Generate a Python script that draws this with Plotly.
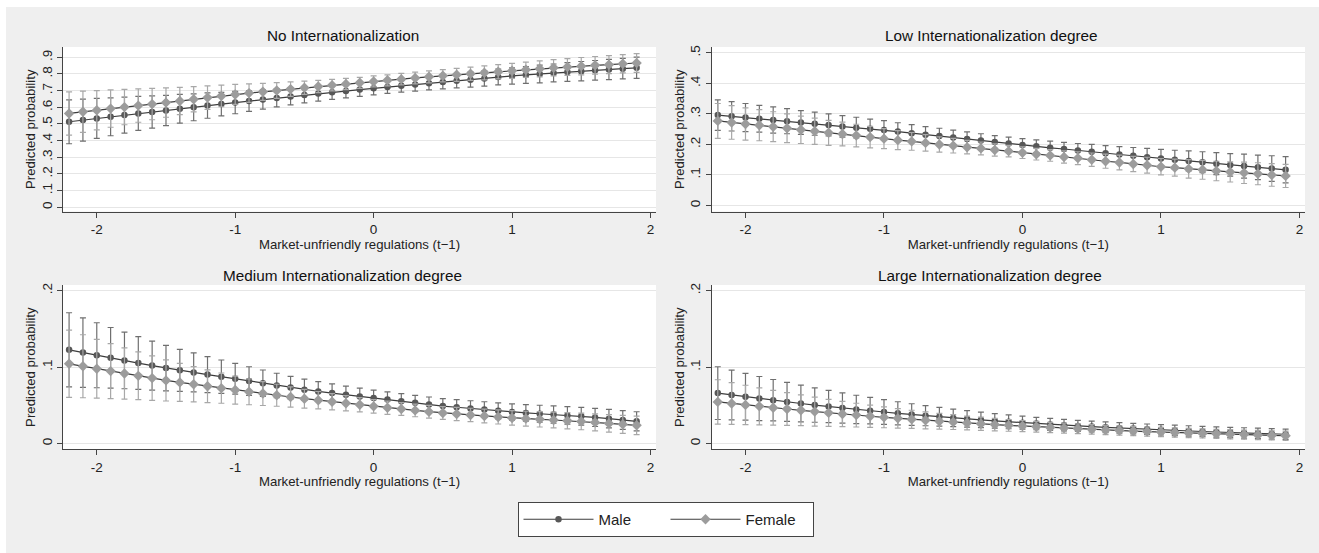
import plotly.graph_objects as go

# ---------------- data ----------------
x_vals = [-2.2, -2.1, -2.0, -1.9, -1.8, -1.7, -1.6, -1.5, -1.4, -1.3, -1.2, -1.1, -1.0,
          -0.9, -0.8, -0.7, -0.6, -0.5, -0.4, -0.3, -0.2, -0.1, 0.0, 0.1, 0.2, 0.3,
          0.4, 0.5, 0.6, 0.7, 0.8, 0.9, 1.0, 1.1, 1.2, 1.3, 1.4, 1.5, 1.6, 1.7, 1.8, 1.9]

panel_titles = ["No Internationalization", "Low Internationalization degree",
                "Medium Internationalization degree", "Large Internationalization degree"]
series_names = ["Male", "Female"]
x_tick_vals = [-2, -1, 0, 1, 2]
x_tick_labels = ["-2", "-1", "0", "1", "2"]
x_title = "Market-unfriendly regulations (t\u22121)"
y_title = "Predicted probability"

# No internationalization
no_male = [.513, .523, .533, .543, .553, .563, .572, .581, .591, .600, .610, .619, .628,
           .637, .647, .656, .665, .674, .682, .690, .698, .706, .714, .722, .730, .737,
           .745, .752, .759, .766, .773, .782, .788, .794, .800, .806, .812, .817, .822,
           .827, .832, .837]
no_male_ci = [.132, .126, .120, .114, .108, .102, .097, .091, .086, .081, .076, .071, .067,
              .062, .058, .054, .051, .048, .045, .043, .041, .040, .039, .039, .039, .040,
              .041, .042, .043, .045, .046, .048, .049, .051, .053, .054, .056, .058, .059,
              .061, .062, .064]
no_female = [.563, .573, .582, .592, .601, .610, .619, .628, .638, .648, .658, .668, .677,
             .685, .693, .701, .709, .717, .725, .733, .740, .747, .755, .762, .769, .776,
             .783, .789, .795, .801, .807, .813, .819, .825, .831, .837, .842, .847, .852,
             .856, .861, .866]
no_female_ci = [.130, .124, .118, .112, .106, .100, .094, .088, .082, .076, .071, .065, .060,
                .055, .051, .047, .043, .040, .037, .035, .034, .033, .033, .033, .034, .035,
                .036, .037, .039, .040, .042, .043, .045, .046, .048, .049, .050, .052, .053,
                .054, .055, .056]

# Low internationalization
low_male = [.296, .292, .288, .284, .280, .276, .272, .268, .264, .259, .255, .251, .247,
            .242, .237, .232, .228, .223, .218, .213, .208, .203, .198, .194, .189, .185,
            .180, .176, .171, .167, .163, .158, .154, .150, .146, .142, .137, .133, .129,
            .125, .121, .117]
low_male_ci = [.050, .048, .046, .044, .043, .041, .039, .038, .036, .035, .034, .032, .031,
               .029, .028, .026, .025, .024, .023, .022, .021, .021, .021, .021, .022, .022,
               .023, .024, .025, .026, .027, .029, .030, .031, .033, .034, .036, .037, .039,
               .040, .042, .043]
low_female = [.277, .272, .267, .263, .258, .253, .248, .243, .238, .234, .229, .224, .219,
              .214, .210, .205, .200, .196, .191, .187, .182, .178, .173, .168, .164, .159,
              .155, .150, .145, .141, .136, .132, .127, .124, .120, .117, .113, .110, .107,
              .104, .100, .097]
low_female_ci = [.057, .055, .053, .051, .049, .047, .045, .043, .041, .039, .037, .035, .033,
                 .031, .029, .027, .025, .024, .022, .021, .020, .019, .019, .019, .019, .020,
                 .021, .022, .023, .024, .025, .026, .027, .028, .030, .031, .032, .033, .035,
                 .036, .037, .038]

# Medium internationalization
med_male = [.1226, .1190, .1155, .1121, .1087, .1053, .1020, .0987, .0958, .0930, .0902,
            .0875, .0848, .0818, .0789, .0760, .0732, .0704, .0682, .0660, .0638, .0617,
            .0596, .0575, .0554, .0533, .0512, .0491, .0475, .0459, .0444, .0428, .0413,
            .0401, .0390, .0379, .0368, .0357, .0342, .0325, .0308, .0291]
med_male_ci = [.0485, .0455, .0425, .0397, .0370, .0345, .0320, .0297, .0275, .0255, .0236,
               .0218, .0202, .0187, .0173, .0160, .0148, .0138, .0128, .0120, .0113, .0107,
               .0103, .0100, .0098, .0097, .0097, .0098, .0099, .0101, .0103, .0105, .0107,
               .0109, .0111, .0113, .0115, .0117, .0119, .0121, .0123, .0125]
med_female = [.1043, .1011, .0979, .0948, .0917, .0886, .0856, .0826, .0800, .0775, .0750,
              .0725, .0700, .0677, .0654, .0632, .0609, .0587, .0567, .0547, .0527, .0507,
              .0487, .0469, .0452, .0434, .0417, .0400, .0387, .0374, .0361, .0348, .0335,
              .0326, .0317, .0308, .0299, .0290, .0277, .0264, .0252, .0239]
med_female_ci = [.0440, .0412, .0385, .0359, .0335, .0312, .0290, .0269, .0249, .0231, .0214,
                 .0198, .0183, .0169, .0156, .0144, .0133, .0123, .0114, .0106, .0099, .0093,
                 .0089, .0086, .0084, .0083, .0083, .0084, .0086, .0088, .0090, .0092, .0095,
                 .0097, .0100, .0103, .0106, .0109, .0112, .0115, .0118, .0121]

# Large internationalization
large_male = [.0660, .0636, .0612, .0589, .0567, .0545, .0524, .0504, .0484, .0465, .0447,
              .0430, .0413, .0396, .0380, .0365, .0350, .0336, .0322, .0309, .0296, .0284,
              .0273, .0262, .0251, .0241, .0231, .0222, .0213, .0204, .0196, .0188, .0180,
              .0172, .0165, .0158, .0151, .0145, .0139, .0133, .0127, .0122]
large_male_ci = [.0345, .0325, .0306, .0288, .0271, .0255, .0240, .0225, .0211, .0198, .0185,
                 .0173, .0162, .0151, .0141, .0132, .0123, .0115, .0108, .0101, .0095, .0090,
                 .0085, .0081, .0078, .0075, .0073, .0071, .0070, .0069, .0068, .0068, .0068,
                 .0068, .0068, .0068, .0068, .0068, .0068, .0068, .0068, .0068]
large_female = [.0545, .0525, .0506, .0487, .0469, .0452, .0435, .0418, .0402, .0387, .0372,
                .0357, .0343, .0330, .0317, .0304, .0292, .0281, .0269, .0259, .0248, .0238,
                .0229, .0219, .0211, .0202, .0194, .0186, .0178, .0171, .0164, .0157, .0151,
                .0144, .0138, .0133, .0127, .0122, .0117, .0112, .0107, .0102]
large_female_ci = [.0290, .0273, .0257, .0242, .0228, .0214, .0201, .0189, .0177, .0166, .0155,
                   .0145, .0136, .0127, .0119, .0111, .0104, .0097, .0091, .0086, .0081, .0077,
                   .0073, .0070, .0067, .0065, .0063, .0062, .0061, .0060, .0060, .0060, .0060,
                   .0060, .0060, .0060, .0060, .0060, .0060, .0060, .0060, .0060]

y_ticks_no = [0, .1, .2, .3, .4, .5, .6, .7, .8, .9]
y_labels_no = ["0", ".1", ".2", ".3", ".4", ".5", ".6", ".7", ".8", ".9"]
y_ticks_low = [0, .1, .2, .3, .4, .5]
y_labels_low = ["0", ".1", ".2", ".3", ".4", ".5"]
y_ticks_small = [0, .1, .2]
y_labels_small = ["0", ".1", ".2"]

# ---------------- styling ----------------
W, H = 1319, 553
FONT = "Arial, Liberation Sans, Helvetica, sans-serif"
male_marker = "#575757"
female_marker = "#9c9c9c"
line_col = "#3c3c3c"
male_err = "#6f6f6f"
female_err = "#a8a8a8"
bg_gray = "#efefef"

def px_x(p):
    return p / W

def px_y(p):
    return 1 - p / H

panels = [
    dict(title=panel_titles[0], m=no_male, mci=no_male_ci, f=no_female, fci=no_female_ci,
         yr=[-0.026, 0.962], yt=y_ticks_no, yl=y_labels_no,
         xpx=(63, 656), ypx=(47, 211.5), tpx=(343, 35)),
    dict(title=panel_titles[1], m=low_male, mci=low_male_ci, f=low_female, fci=low_female_ci,
         yr=[-0.0196, 0.519], yt=y_ticks_low, yl=y_labels_low,
         xpx=(711.7, 1305), ypx=(47, 211.5), tpx=(991, 35)),
    dict(title=panel_titles[2], m=med_male, mci=med_male_ci, f=med_female, fci=med_female_ci,
         yr=[-0.0075, 0.2074], yt=y_ticks_small, yl=y_labels_small,
         xpx=(63, 656), ypx=(285, 449.3), tpx=(342, 275)),
    dict(title=panel_titles[3], m=large_male, mci=large_male_ci, f=large_female, fci=large_female_ci,
         yr=[-0.0075, 0.2074], yt=y_ticks_small, yl=y_labels_small,
         xpx=(711.7, 1305), ypx=(285, 449.3), tpx=(990, 275)),
]

fig = go.Figure()
layout = dict(
    width=W, height=H, autosize=False,
    margin=dict(l=0, r=0, t=0, b=0),
    paper_bgcolor=bg_gray,
    plot_bgcolor="#ffffff",
    font=dict(family=FONT, color="#222222", size=12),
    showlegend=True,
    legend=dict(orientation="h", x=px_x(665.5), xanchor="center", y=px_y(519.5), yanchor="middle",
                bgcolor="#ffffff", bordercolor="#444444", borderwidth=1,
                font=dict(size=15, color="#222222"), entrywidth=62, itemwidth=70,
                traceorder="normal"),
    annotations=[],
    shapes=[
        dict(type="rect", xref="paper", yref="paper", x0=0, x1=px_x(6), y0=0, y1=1,
             fillcolor="#ffffff", line=dict(width=0), layer="below"),
        dict(type="rect", xref="paper", yref="paper", x0=0, x1=1, y0=px_y(7), y1=1,
             fillcolor="#ffffff", line=dict(width=0), layer="below"),
    ],
)

for i, p in enumerate(panels):
    k = "" if i == 0 else str(i + 1)
    xa, ya = "x" + k, "y" + k
    for name, vals, ci, mcol, sym, size, ecol in [
        (series_names[0], p["m"], p["mci"], male_marker, "circle", 6.5, male_err),
        (series_names[1], p["f"], p["fci"], female_marker, "diamond", 8, female_err),
    ]:
        fig.add_trace(go.Scatter(
            x=x_vals, y=vals, mode="lines+markers", name=name,
            legendgroup=name, showlegend=(i == 0),
            line=dict(color=line_col, width=1.2),
            marker=dict(color=mcol, symbol=sym, size=size, line=dict(width=0)),
            error_y=dict(type="data", array=ci, visible=True, color=ecol,
                         thickness=1.2, width=3),
            xaxis=xa, yaxis=ya,
        ))
    layout["xaxis" + k] = dict(
        domain=[px_x(p["xpx"][0]), px_x(p["xpx"][1])], anchor=ya,
        range=[-2.244, 2.04], tickvals=x_tick_vals, ticktext=x_tick_labels,
        ticks="outside", ticklen=5, tickcolor="#444444", tickwidth=1,
        showline=True, linecolor="#444444", linewidth=1,
        showgrid=False, zeroline=False, automargin=False,
        tickfont=dict(size=13.5, color="#222222"),
        title=dict(text=x_title, font=dict(size=13.2, color="#222222"), standoff=0),
    )
    layout["yaxis" + k] = dict(
        domain=[px_y(p["ypx"][1]), px_y(p["ypx"][0])], anchor=xa,
        range=p["yr"], tickvals=p["yt"], ticktext=p["yl"], tickangle=-90,
        ticks="outside", ticklen=5, tickcolor="#444444", tickwidth=1,
        showline=True, linecolor="#444444", linewidth=1,
        showgrid=True, gridcolor="#e6e6e6", gridwidth=1,
        zeroline=False, automargin=False,
        tickfont=dict(size=13.5, color="#222222"),
        title=dict(text=y_title, font=dict(size=13.2, color="#222222"), standoff=0),
    )
    layout["annotations"].append(dict(
        text=p["title"], xref="paper", yref="paper",
        x=px_x(p["tpx"][0]), y=px_y(p["tpx"][1]), xanchor="center", yanchor="middle",
        showarrow=False, font=dict(size=15.3, color="#111111"),
    ))

fig.update_layout(**layout)
fig.write_html("out.html", config={"displayModeBar": False},
               post_script="document.body.style.margin='0';")
